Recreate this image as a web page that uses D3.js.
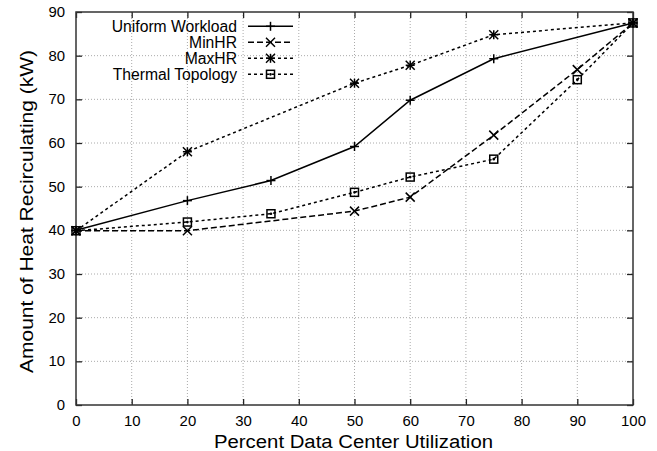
<!DOCTYPE html>
<html><head><meta charset="utf-8">
<script src="https://cdn.jsdelivr.net/npm/d3@7"></script>
<style>body{margin:0;background:#fff}svg{display:block}text{font-family:"Liberation Sans",Arial,sans-serif;fill:#000}</style>
</head><body>
<script>
const xTicks=[0,10,20,30,40,50,60,70,80,90,100];
const yTicks=[0,10,20,30,40,50,60,70,80,90];
const seriesNames=["Uniform Workload","MinHR","MaxHR","Thermal Topology"];
const uniformX=[0,20,35,50,60,75,100];
const uniformY=[40,46.8,51.4,59.2,69.8,79.3,87.5];
const minX=[0,20,50,60,75,90,100];
const minY=[39.9,39.9,44.4,47.6,61.8,76.8,87.5];
const maxX=[0,20,50,60,75,100];
const maxY=[39.9,58,73.7,77.8,84.8,87.5];
const thermX=[0,20,35,50,60,75,90,100];
const thermY=[39.9,41.9,43.8,48.7,52.2,56.3,74.5,87.5];

const W=657,H=451,L=76,R=633,T=12,B=405;
const svg=d3.select("body").append("svg").attr("width",W).attr("height",H);
const x=d3.scaleLinear().domain([0,100]).range([L,R]);
const y=d3.scaleLinear().domain([0,90]).range([B,T]);

// grid
const g=svg.append("g");
g.selectAll(".gx").data(xTicks.slice(1,-1)).join("line").attr("x1",d=>x(d)).attr("x2",d=>x(d)).attr("y1",T).attr("y2",B)
 .attr("stroke","#aaa").attr("stroke-width",1).attr("stroke-dasharray","1,2");
g.selectAll(".gy").data(yTicks.slice(1,-1)).join("line").attr("y1",d=>y(d)).attr("y2",d=>y(d)).attr("x1",L).attr("x2",R)
 .attr("stroke","#aaa").attr("stroke-width",1).attr("stroke-dasharray","1,2");

// axes via d3
const ax=svg.append("g").attr("transform",`translate(0,${B})`).call(d3.axisBottom(x).tickValues(xTicks).tickSize(-6).tickPadding(11));
const ay=svg.append("g").attr("transform",`translate(${L},0)`).call(d3.axisLeft(y).tickValues(yTicks).tickSize(-6).tickPadding(11));
const ax2=svg.append("g").attr("transform",`translate(0,${T})`).call(d3.axisTop(x).tickValues(xTicks).tickSize(-6).tickFormat(""));
const ay2=svg.append("g").attr("transform",`translate(${R},0)`).call(d3.axisRight(y).tickValues(yTicks).tickSize(-6).tickFormat(""));
[ax,ay,ax2,ay2].forEach(a=>{a.select(".domain").remove();a.selectAll("line").attr("stroke","#222").attr("stroke-width",1.3);
 a.selectAll("text").style("font-family","'Liberation Sans',Arial,sans-serif").style("font-size","14px").attr("fill","#000")
  .attr("textLength",function(){return this.textContent.length*8.3;}).attr("lengthAdjust","spacingAndGlyphs");});
svg.append("rect").attr("x",L).attr("y",T).attr("width",R-L).attr("height",B-T).attr("fill","none").attr("stroke","#333").attr("stroke-width",1.5);

// titles
svg.append("text").attr("x",353.5).attr("y",448).attr("text-anchor","middle").style("font-size","18px")
 .attr("textLength",279).attr("lengthAdjust","spacingAndGlyphs").text("Percent Data Center Utilization");
svg.append("text").attr("transform",`translate(33,211.5) rotate(-90)`).attr("text-anchor","middle").style("font-size","18px")
 .attr("textLength",323).attr("lengthAdjust","spacingAndGlyphs").text("Amount of Heat Recirculating (kW)");

const styles=[
 {xs:uniformX,ys:uniformY,dash:null,m:"plus"},
 {xs:minX,ys:minY,dash:"6,3",m:"cross"},
 {xs:maxX,ys:maxY,dash:"3,3",m:"star"},
 {xs:thermX,ys:thermY,dash:"3,3",m:"square"}];
const line=d3.line().x(d=>x(d[0])).y(d=>y(d[1]));
function marker(sel,type,cx,cy){
 const s=4.5,gg=sel.append("g").attr("transform",`translate(${cx},${cy})`).attr("stroke","#000").attr("stroke-width",1.5).attr("fill","none");
 if(type==="plus"||type==="star"){gg.append("line").attr("x1",-s).attr("x2",s);gg.append("line").attr("y1",-s).attr("y2",s);}
 if(type==="cross"||type==="star"){gg.append("line").attr("x1",-s).attr("x2",s).attr("y1",-s).attr("y2",s);gg.append("line").attr("x1",-s).attr("x2",s).attr("y1",s).attr("y2",-s);}
 if(type==="square"){gg.append("rect").attr("x",-4).attr("y",-4).attr("width",8).attr("height",8);gg.append("circle").attr("r",0.6).attr("fill","#000");}
}
styles.forEach(st=>{
 const pts=st.xs.map((v,i)=>[v,st.ys[i]]);
 svg.append("path").datum(pts).attr("d",line).attr("fill","none").attr("stroke","#000").attr("stroke-width",1.5).attr("stroke-dasharray",st.dash);
 pts.forEach(p=>marker(svg,st.m,x(p[0]),y(p[1])));
});

// legend
const legY=[26.3,42.3,58.3,74.3];
seriesNames.forEach((n,i)=>{
 const t=svg.append("text").attr("x",237).attr("y",legY[i]+5.6).attr("text-anchor","end").style("font-size","16px").text(n);
 const len=t.node().getComputedTextLength();
 t.attr("textLength",len*0.98).attr("lengthAdjust","spacingAndGlyphs");
 svg.append("line").attr("x1",248).attr("x2",293).attr("y1",legY[i]).attr("y2",legY[i]).attr("stroke","#000").attr("stroke-width",1.5).attr("stroke-dasharray",styles[i].dash);
 marker(svg,styles[i].m,270.5,legY[i]);
});
</script>
</body></html>
